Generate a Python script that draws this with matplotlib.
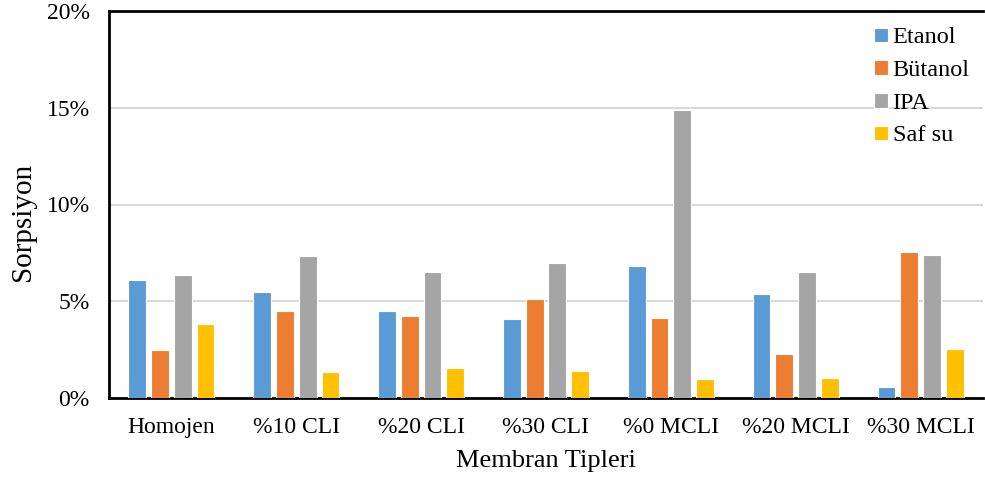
import numpy as np
import matplotlib
matplotlib.use("Agg")
import matplotlib.pyplot as plt
from matplotlib.ticker import PercentFormatter

# data (sorption, %)
categories = ["Homojen", "%10 CLI", "%20 CLI", "%30 CLI", "%0 MCLI", "%20 MCLI", "%30 MCLI"]
etanol = [6.09, 5.47, 4.49, 4.08, 6.81, 5.36, 0.59]
butanol = [2.47, 4.48, 4.22, 5.10, 4.12, 2.28, 7.52]
ipa = [6.35, 7.35, 6.49, 7.00, 14.86, 6.52, 7.37]
saf_su = [3.81, 1.32, 1.56, 1.42, 0.98, 1.02, 2.51]

series = [
    ("Etanol", etanol, "#5B9BD5"),
    ("Bütanol", butanol, "#ED7D31"),
    ("IPA", ipa, "#A5A5A5"),
    ("Saf su", saf_su, "#FFC000"),
]

plt.rcParams['font.family'] = ['Liberation Serif', 'DejaVu Serif']

fig = plt.figure(figsize=(9.85, 4.83), dpi=100)
ax = fig.add_axes([109 / 985, 1 - 398 / 483, 874 / 985, 387 / 483])

x = np.arange(len(categories))
bar_w = 0.142
stride = 0.182
for i, (name, vals, col) in enumerate(series):
    offs = (i - 1.5) * stride
    ax.bar(x + offs, vals, width=bar_w, color=col, label=name,
           edgecolor="white", linewidth=0.8, zorder=3)

ax.set_xlim(-0.5, len(categories) - 0.5)
ax.set_ylim(0, 20)
ax.set_yticks([0, 5, 10, 15, 20])
ax.yaxis.set_major_formatter(PercentFormatter(decimals=0))
ax.set_xticks(x)
ax.set_xticklabels(categories)
ax.tick_params(axis="both", length=0, labelsize=17, colors="black")
ax.tick_params(axis="x", pad=14)
ax.tick_params(axis="y", pad=14)

ax.grid(axis="y", color="#d9d9d9", linewidth=1.5, zorder=0)
for s in ["left", "bottom", "top"]:
    ax.spines[s].set_color("black")
    ax.spines[s].set_linewidth(2)
ax.spines["right"].set_visible(False)

ax.set_xlabel("Membran Tipleri", fontsize=19, labelpad=8)
ax.set_ylabel("Sorpsiyon", fontsize=21)
ax.yaxis.set_label_coords(-0.084, 0.455)

ax.legend(loc="upper right", bbox_to_anchor=(1.0, 0.992), frameon=False, fontsize=17.5,
          handlelength=0.55, handleheight=0.55, handletextpad=0.2, labelspacing=0.48,
          borderaxespad=0.15)

fig.savefig("out.png", dpi=100)
